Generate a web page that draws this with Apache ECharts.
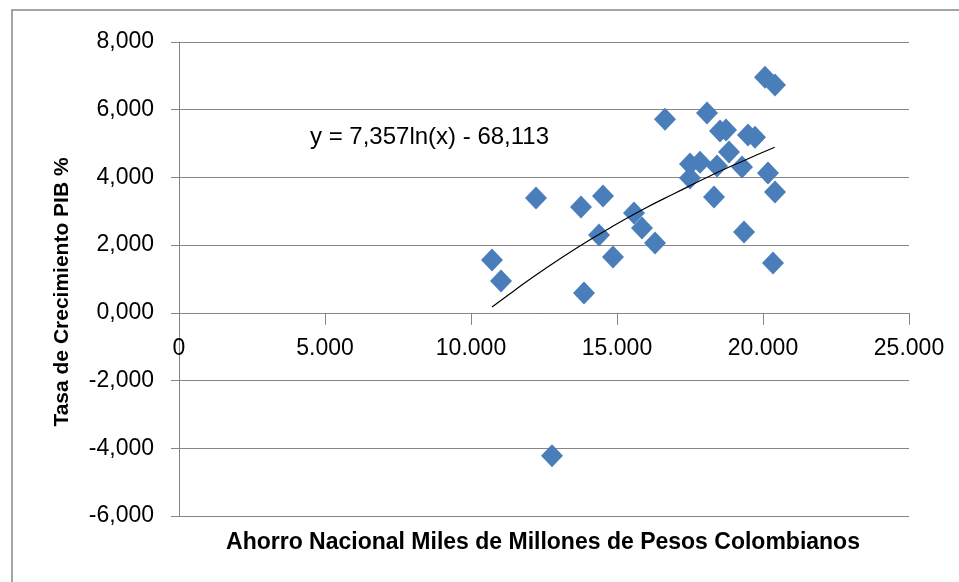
<!DOCTYPE html>
<html>
<head>
<meta charset="utf-8">
<script src="https://cdn.jsdelivr.net/npm/echarts@6/dist/echarts.min.js"></script>
<style>
html,body{margin:0;padding:0;background:#fff;}
#chart{width:959px;height:582px;}
</style>
</head>
<body>
<div id="chart"></div>
<script>
// Ahorro Nacional (miles de millones de pesos) vs Tasa de crecimiento PIB %
const ahorro = [10719, 11028, 12226, 13767, 14521, 14384, 14863, 13870, 15582, 15856,
  16302, 16644, 17500, 17843, 17500, 18082, 18528, 18733, 18836, 18425,
  19281, 18322, 19486, 19726, 20171, 20069, 20411, 20411, 19350, 20343, 12774];
const crecimiento = [1.56, 0.94, 3.39, 3.13, 3.45, 2.30, 1.65, 0.59, 2.95, 2.51,
  2.06, 5.72, 4.40, 4.45, 3.98, 5.90, 5.37, 5.40, 4.75, 4.34,
  4.31, 3.42, 5.25, 5.19, 4.13, 6.96, 6.73, 3.57, 2.39, 1.47, -4.22];
// Trend line points
const trendX = [10720, 11500, 12500, 13700, 14800, 15900, 17000, 18200, 19300, 20400];
const trendY = [0.17, 0.67, 1.28, 1.96, 2.53, 3.06, 3.54, 4.05, 4.48, 4.89];
const equationText = 'y = 7,357ln(x) - 68,113';
const xTitle = 'Ahorro Nacional Miles de Millones de Pesos Colombianos';
const yTitle = 'Tasa de Crecimiento PIB %';

const points = ahorro.map((x, i) => [x, crecimiento[i]]);
const trend = trendX.map((x, i) => [x, trendY[i]]);

const chart = echarts.init(document.getElementById('chart'));
const FONT = 'Liberation Sans';
const gridTop = 42, gridBottom = 66, yMin = -6, yMax = 8;
const plotH = 582 - gridTop - gridBottom;
// shift the x axis up so it sits on the y = 0 line
const xAxisOffset = -plotH * (0 - yMin) / (yMax - yMin);
chart.setOption({
  animation: false,
  backgroundColor: '#fff',
  grid: {left: 179, right: 50, top: gridTop, bottom: gridBottom, containLabel: false},
  xAxis: {
    type: 'value', min: 0, max: 25000, interval: 5000,
    position: 'bottom', offset: xAxisOffset,
    axisLine: {show: true, onZero: false, lineStyle: {color: '#868686', width: 1}},
    axisTick: {show: true, length: 12, lineStyle: {color: '#868686'}},
    axisLabel: {
      margin: 24, color: '#000', fontFamily: FONT, fontSize: 23,
      formatter: v => v === 0 ? '0' : String(v).replace(/\B(?=(\d{3})+(?!\d))/g, '.')
    },
    splitLine: {show: false}
  },
  yAxis: {
    type: 'value', min: yMin, max: yMax, interval: 2,
    axisLine: {show: true, onZero: false, lineStyle: {color: '#868686', width: 1}},
    axisTick: {show: true, length: 8, lineStyle: {color: '#868686'}},
    axisLabel: {
      margin: 25, color: '#000', fontFamily: FONT, fontSize: 23,
      formatter: v => v.toFixed(3).replace('.', ',')
    },
    splitLine: {show: true, lineStyle: {color: '#868686', width: 1}}
  },
  series: [
    {
      type: 'line', data: trend, smooth: true, showSymbol: false, symbol: 'none',
      lineStyle: {color: '#000', width: 1.2}, z: 3
    },
    {
      type: 'scatter', data: points, symbol: 'diamond', symbolSize: [22, 23],
      itemStyle: {color: '#4A7EBB', opacity: 1}, z: 2
    }
  ],
  graphic: [
    {type: 'rect', shape: {x: 12, y: 10, width: 960, height: 580},
     style: {fill: 'none', stroke: '#868686', lineWidth: 1.5}, silent: true},
    {type: 'text', left: 310, top: 125,
     style: {text: equationText, font: '24px "Liberation Sans"', fill: '#000'}},
    {type: 'text', x: 543, y: 543,
     style: {text: xTitle, font: 'bold 23px "Liberation Sans"', fill: '#000', align: 'center', verticalAlign: 'middle'}},
    {type: 'text', x: 62, y: 292, rotation: Math.PI / 2,
     style: {text: yTitle, font: 'bold 21px "Liberation Sans"', fill: '#000', align: 'center', verticalAlign: 'middle'}}
  ]
});
</script>
</body>
</html>
